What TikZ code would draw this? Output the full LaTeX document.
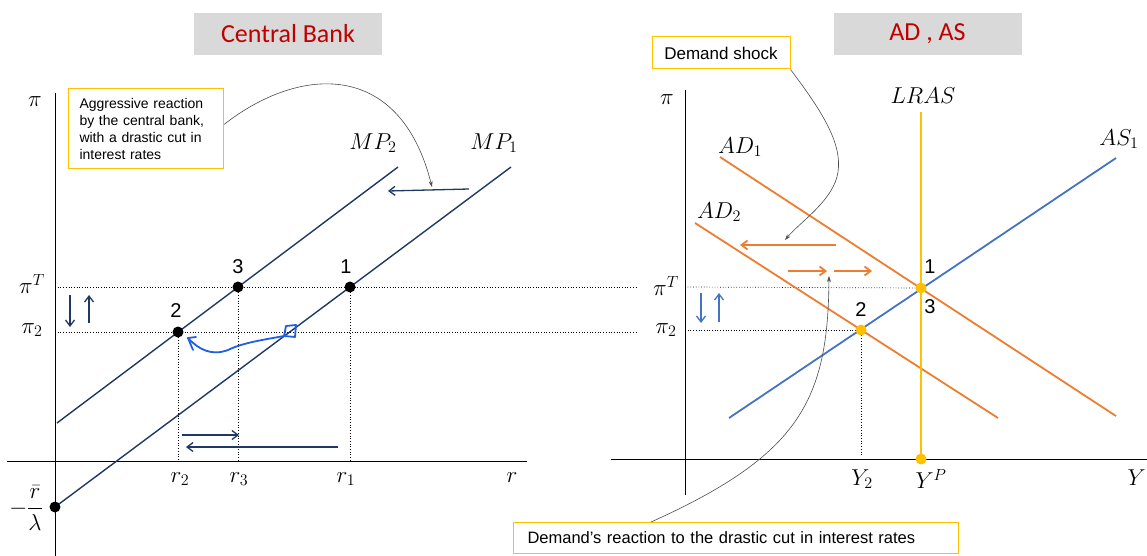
\RequirePackage{fix-cm}
\documentclass[tikz,border=0pt]{standalone}
\usepackage{amsmath}
\usepackage{fontspec}
\setmainfont{Liberation Sans}
\newfontfamily\titlefont{Carlito}
\usetikzlibrary{arrows.meta}
\definecolor{navy}{HTML}{1F3864}
\definecolor{handblue}{HTML}{1F5FE6}
\definecolor{adorange}{HTML}{ED7D31}
\definecolor{asblue}{HTML}{4472C4}
\definecolor{gold}{HTML}{FFC000}
\definecolor{titlegray}{HTML}{D9D9D9}
\definecolor{titlered}{HTML}{C00000}
\tikzset{
  axisline/.style={line width=0.9pt},
  guide/.style={dotted, line width=0.7pt},
  titlebox/.style={fill=titlegray, minimum width=188pt, minimum height=42pt, text=titlered, font=\titlefont\fontsize{26}{30}\selectfont},
  notebox/.style={draw=gold, line width=1pt, fill=white, font=\fontsize{14}{17}\selectfont},
  note/.style={black!70, line width=0.6pt, -{Stealth[length=6pt,width=4pt]}},
  lab/.style={font=\fontsize{23}{27}\selectfont},
  num/.style={font=\fontsize{20}{24}\selectfont},
  dot/.style={circle, fill=black, inner sep=0pt, minimum size=11pt},
  ydot/.style={circle, fill=gold, inner sep=0pt, minimum size=11pt},
  mpline/.style={navy, line width=1.4pt},
  shiftarrow/.style={line width=1.3pt, -{Straight Barb[length=6pt,width=9pt]}},
  hand/.style={handblue, line width=1.8pt, line cap=round, line join=round},
}

\begin{document}
\begin{tikzpicture}[x=1pt, y=-1pt]
\useasboundingbox (0,0) rectangle (1147,556);
\clip (0,0) rectangle (1147,556);

% titles
\node[titlebox] (cbtitle) at (288,34) {Central Bank};
\node[titlebox] (adtitle) at (927.5,34) {AD , AS};

% ---- central bank panel ----
\coordinate (lO) at (55,461);
\draw[axisline] (55,93) -- (55,556);
\draw[axisline] (7,461) -- (527,461);
\node[lab] (lpi) at (35,102) {$\pi$};
\node[lab] (lr) at (512,478) {$r$};

\coordinate (p1) at (350,287);
\coordinate (p2) at (178,332);
\coordinate (p3) at (238,287);

\draw[guide] (55,287) -- (637,287);
\draw[guide] (55,332) -- (637,332);
\draw[guide] (p1) -- (p1 |- lO);
\draw[guide] (p2) -- (p2 |- lO);
\draw[guide] (p3) -- (p3 |- lO);

\draw[mpline] (57,423) -- (398,167);
\draw[mpline] (55,507) -- (511,167);
\node[lab] (mp2) at (373,143) {$MP_2$};
\node[lab] (mp1) at (494,143) {$MP_1$};

\node[dot] (pt1) at (p1) {};
\node[dot] (pt2) at (p2) {};
\node[dot] (pt3) at (p3) {};
\node[dot] (ptrl) at (55,507) {};
\node[num] at (346,267) {1};
\node[num] at (176,311) {2};
\node[num] at (238,267) {3};

\node[lab] (lpiT) at (32,284) {$\pi^T$};
\node[lab] (lpi2) at (32,330) {$\pi_2$};
\node[lab] (rl) at (26,508) {$-\dfrac{\bar{r}}{\lambda}$};
\node[lab] (r2) at (180,479) {$r_2$};
\node[lab] (r3) at (239,479) {$r_3$};
\node[lab] (r1) at (346,479) {$r_1$};

\draw[shiftarrow, navy] (469,189) -- (388,191);
\draw[shiftarrow, navy] (70,295) -- (70,327);
\draw[shiftarrow, navy] (89,323) -- (89,295);
\draw[shiftarrow, navy] (182,435) -- (239,435);
\draw[shiftarrow, navy] (338,447) -- (186,447);

% hand-drawn move from the old to the new point
\draw[hand] (284,336) -- (286,326) -- (296,325) -- (295,337) -- cycle;
\draw[hand] (284,336) .. controls (262,340) and (242,343) .. (228,350) .. controls (212,356) and (199,350) .. (188,338);
\draw[hand] (196,337) -- (188,338) -- (193,350);

\node[notebox, anchor=north west, text width=133pt, inner xsep=11pt, inner ysep=4pt, align=left, minimum height=80pt] (aggr) at (68,88) {Aggressive reaction\\by the central bank,\\with a drastic cut in\\interest rates};
\draw[note] ([yshift=4pt]aggr.east) .. controls (300,65) and (400,60) .. (432,187);

% ---- AD / AS panel ----
\coordinate (rO) at (685,459);
\draw[axisline] (685,90) -- (685,495);
\draw[axisline] (611,459) -- (1147,459);
\node[lab] (rpi) at (667,100) {$\pi$};
\node[lab, anchor=east, inner xsep=1pt] (ry) at (1147,478) {$Y$};

\coordinate (q1) at (921,288);
\coordinate (q2) at (861,330);

\draw[guide] (685,287) -- (q1);
\draw[guide] (685,330) -- (q2);
\draw[guide] (q2) -- (861,456);

\draw[adorange, line width=1.8pt] (720,157) -- (1116,416);
\draw[adorange, line width=1.8pt] (695,223) -- (998,418);
\draw[asblue, line width=1.8pt] (729,418) -- (1116,158);
\draw[gold, line width=2.2pt] (921,112) -- (921,459);

\node[lab] (ad1) at (740,147) {$AD_1$};
\node[lab] (ad2) at (719,212) {$AD_2$};
\node[lab] (as1) at (1119,139) {$AS_1$};
\node[lab] (lras) at (923,96) {$LRAS$};

\node[ydot] (qt1) at (q1) {};
\node[ydot] (qt2) at (q2) {};
\node[ydot] (qtp) at (921,459) {};
\node[num] at (930,267) {1};
\node[num] at (930,307) {3};
\node[num] at (861,310) {2};

\node[lab] (rpiT) at (666,286) {$\pi^T$};
\node[lab] (rpi2) at (666,330) {$\pi_2$};
\node[lab] (y2) at (862,479) {$Y_2$};
\node[lab] (yp) at (931,479) {$Y^P$};

\draw[shiftarrow, adorange, line width=1.8pt] (836,245) -- (740,245);
\draw[shiftarrow, adorange, line width=1.8pt] (788,271) -- (827,271);
\draw[shiftarrow, adorange, line width=1.8pt] (834,271) -- (872,271);
\draw[shiftarrow, asblue] (701,293) -- (701,323);
\draw[shiftarrow, asblue] (719,322) -- (719,293);

\node[notebox, font=\fontsize{17}{20}\selectfont, minimum width=138pt, minimum height=32pt, inner sep=0pt] (shock) at (721,53) {Demand shock};
\draw[note] (shock.south east) .. controls (825,115) and (842,145) .. (838,172) .. controls (834,200) and (800,222) .. (785,240);

\node[notebox, font=\fontsize{16.5}{19}\selectfont, anchor=north west, text width=417pt, inner xsep=14pt, minimum height=31pt, align=left] (react) at (513,522) {Demand’s reaction to the drastic cut in interest rates};
\draw[note] ([xshift=138pt]react.north west) .. controls (800,455) and (828,400) .. (829,276);
\end{tikzpicture}
\end{document}
